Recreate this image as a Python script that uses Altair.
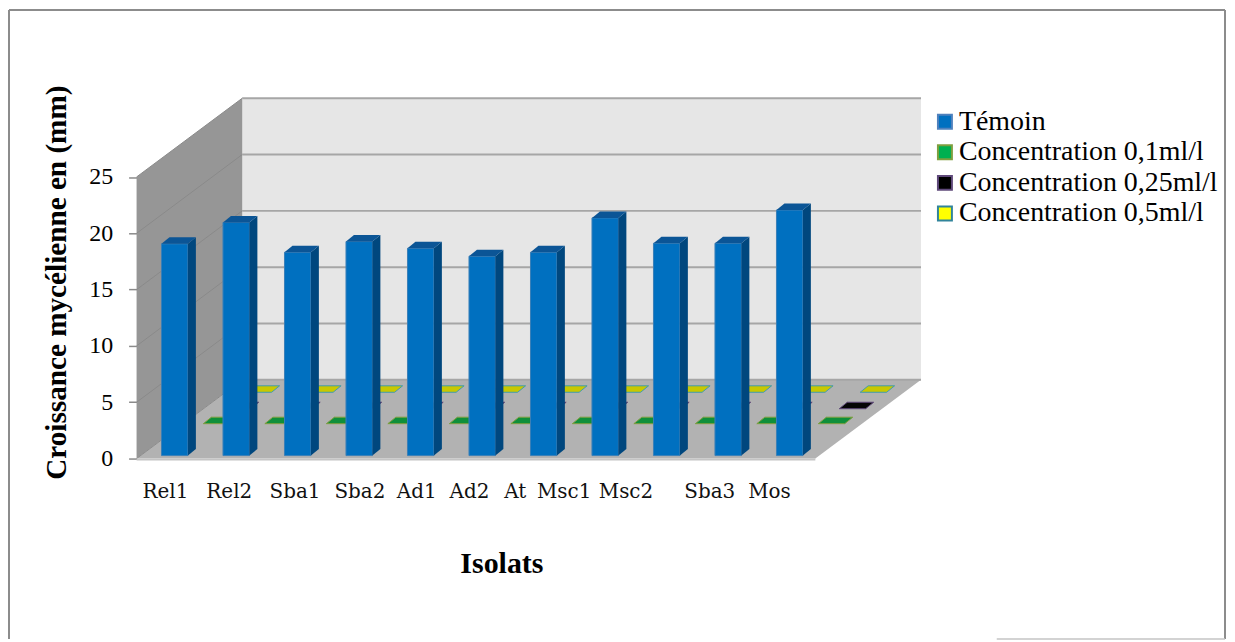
import altair as alt
import pandas as pd

categories = ["Rel1", "Rel2", "Sba1", "Sba2", "Ad1", "Ad2", "At", "Msc1", "Msc2", "Sba3", "Mos"]
temoin = [18.8, 20.7, 18.05, 19.0, 18.4, 17.7, 18.05, 21.1, 18.85, 18.85, 21.8]
conc_01 = [0] * 11
conc_025 = [0] * 11
conc_05 = [0] * 11
series = ["Témoin", "Concentration 0,1ml/l", "Concentration 0,25ml/l", "Concentration 0,5ml/l"]
legend_fill = ["#0070C0", "#00B050", "#000000", "#FFFF00"]
legend_stroke = ["#4F81BD", "#7F9F3F", "#5F497A", "#31849B"]
label_centres = [166, 230, 296, 361, 418, 471, 517, 566, 628, 712, 772]

W, H = 1223, 633
STEP, UNIT = 61.7, 11.3
X0, Y0 = 158 - 8, 459 - 8   # chart pixel position of column 0, value 0
DEPTH_X, DEPTH_Y = 106, 79
BAR_W, BAR_DX, BAR_DY = 26.5, 8, 6.5

xs = alt.Scale(domain=[-X0 / STEP, (W - X0) / STEP], nice=False, zero=False)
ys = alt.Scale(domain=[(Y0 - H) / UNIT, Y0 / UNIT], nice=False, zero=False)


def X(u, px=0):
    return u + px / STEP


def Y(v, px=0):
    return v + px / UNIT


def vband(points, color, **mark):
    """Parallelogram with vertical edges: rows of (x, y, y2)."""
    df = pd.DataFrame(points, columns=["x", "y", "y2", "id"])
    return alt.Chart(df).mark_area(color=color, **mark).encode(
        x=alt.X("x:Q", scale=xs, axis=None),
        y=alt.Y("y:Q", scale=ys, axis=None),
        y2="y2:Q",
        detail="id:N",
    )


def hband(points, color, **mark):
    """Parallelogram with horizontal edges: rows of (y, x, x2)."""
    df = pd.DataFrame(points, columns=["y", "x", "x2", "id"])
    return alt.Chart(df).mark_area(color=color, orient="horizontal", **mark).encode(
        y=alt.Y("y:Q", scale=ys, axis=None),
        x=alt.X("x:Q", scale=xs, axis=None),
        x2="x2:Q",
        detail="id:N",
    )


# legend driver, hidden behind the back wall
legend_df = pd.DataFrame({"serie": series, "x": [X(3)] * 4, "y": [15] * 4})
leg = alt.Legend(
    title=None, orient="none", legendX=926, legendY=99, symbolType="square",
    symbolSize=196, symbolStrokeWidth=2, symbolOpacity=1, labelFont="Liberation Serif", labelFontSize=28,
    labelColor="#000000", labelOffset=0, rowPadding=2.7, labelLimit=400, padding=0,
)
legend_layer = alt.Chart(legend_df).mark_square(size=100, filled=True, opacity=1).encode(
    x=alt.X("x:Q", scale=xs, axis=None),
    y=alt.Y("y:Q", scale=ys, axis=None),
    color=alt.Color("serie:N", sort=series, scale=alt.Scale(domain=series, range=legend_fill), legend=leg),
    stroke=alt.Stroke("serie:N", sort=series, scale=alt.Scale(domain=series, range=legend_stroke), legend=leg),
)

# walls and floor
wall_l = X(0, 137 - 158)
wall_r = X(0, 818 - 158)
top = 25
back_wall = alt.Chart(pd.DataFrame({
    "x": [X(wall_l, DEPTH_X)], "x2": [X(wall_r, DEPTH_X)], "y": [Y(0, DEPTH_Y)], "y2": [Y(top, DEPTH_Y)],
})).mark_rect(color="#E6E6E6").encode(
    x=alt.X("x:Q", scale=xs, axis=None), x2="x2:Q",
    y=alt.Y("y:Q", scale=ys, axis=None), y2="y2:Q",
)
left_wall = vband(
    [(wall_l, 0, top, "w"), (X(wall_l, DEPTH_X), Y(0, DEPTH_Y), Y(top, DEPTH_Y), "w")],
    "#969696",
)
floor = hband(
    [(0, wall_l, wall_r, "f"), (Y(0, DEPTH_Y), X(wall_l, DEPTH_X), X(wall_r, DEPTH_X), "f")],
    "#B2B2B2",
)

levels = [0, 5, 10, 15, 20, 25]
grid_back = alt.Chart(pd.DataFrame({
    "x": [X(wall_l, DEPTH_X)] * 6, "x2": [X(wall_r, DEPTH_X)] * 6, "y": [Y(v, DEPTH_Y) for v in levels],
})).mark_rule(color="#A6A6A6", strokeWidth=2).encode(
    x=alt.X("x:Q", scale=xs, axis=None), x2="x2:Q", y=alt.Y("y:Q", scale=ys, axis=None),
)
side_rows = []
for v in levels:
    side_rows += [(wall_l, v, v), (X(wall_l, DEPTH_X), Y(v, DEPTH_Y), v)]
grid_side = alt.Chart(pd.DataFrame(side_rows, columns=["x", "y", "lvl"])).mark_line(
    color="#8A8A8A", strokeWidth=1
).encode(
    x=alt.X("x:Q", scale=xs, axis=None), y=alt.Y("y:Q", scale=ys, axis=None), detail="lvl:N",
)
front_lip = alt.Chart(pd.DataFrame({"x": [wall_l], "x2": [wall_r], "y": [Y(0, -1)]})).mark_rule(
    color="#C4C4C4", strokeWidth=2
).encode(x=alt.X("x:Q", scale=xs, axis=None), x2="x2:Q", y=alt.Y("y:Q", scale=ys, axis=None))


def tiles(values, depth_x, depth_y, fill, stroke, name):
    rows = []
    for i, v in enumerate(values):
        x = X(i, depth_x)
        rows.append((Y(v, depth_y), x, X(x, BAR_W), f"{name}{i}"))
        rows.append((Y(v, depth_y + BAR_DY), X(x, BAR_DX), X(x, BAR_W + BAR_DX), f"{name}{i}"))
    return hband(rows, fill, stroke=stroke, strokeWidth=1)


tiles_05 = tiles(conc_05, 88, 66.5, "#C9C800", "#3F9CB0", "y")
tiles_025 = tiles(conc_025, 67, 50, "#050505", "#5F497A", "k")
tiles_01 = tiles(conc_01, 46, 35, "#0F8F3A", "#7F9F3F", "g")

# Témoin bars
bx, by = 4, 3
bars_df = pd.DataFrame({
    "x": [X(i, bx) for i in range(11)],
    "x2": [X(i, bx + BAR_W) for i in range(11)],
    "y": [Y(0, by)] * 11,
    "y2": [Y(v, by) for v in temoin],
})
bars_front = alt.Chart(bars_df).mark_rect(color="#0070C0", stroke="#3A7FB8", strokeWidth=1).encode(
    x=alt.X("x:Q", scale=xs, axis=None), x2="x2:Q",
    y=alt.Y("y:Q", scale=ys, axis=None), y2="y2:Q",
)
side = []
cap = []
for i, v in enumerate(temoin):
    xr = X(i, bx + BAR_W)
    xl = X(i, bx)
    side += [
        (xr, Y(0, by), Y(v, by), f"s{i}"),
        (X(xr, BAR_DX), Y(0, by + BAR_DY), Y(v, by + BAR_DY), f"s{i}"),
    ]
    cap += [
        (Y(v, by), xl, xr, f"c{i}"),
        (Y(v, by + BAR_DY), X(xl, BAR_DX), X(xr, BAR_DX), f"c{i}"),
    ]
bars_side = vband(side, "#00477E")
bars_cap = hband(cap, "#0B5596")

# axes and text
y_axis_layer = alt.Chart(pd.DataFrame({"y": levels, "x": [wall_l] * 6})).mark_point(opacity=0).encode(
    x=alt.X("x:Q", scale=xs, axis=None),
    y=alt.Y("y:Q", scale=ys, axis=alt.Axis(
        values=levels, offset=-129, domain=False, grid=False, tickSize=8, tickColor="#8A8A8A",
        tickWidth=1.5, labelFont="Liberation Serif", labelFontSize=24, labelColor="#000000",
        labelPadding=16, title="Croissance mycélienne en (mm)", titleFont="Liberation Serif",
        titleFontSize=29.3, titleFontWeight="bold", titleColor="#000000", titleX=-65, titleY=274,
        titleAngle=270,
    )),
)
labels = alt.Chart(pd.DataFrame({
    "t": categories,
    "x": [(c - 158) / STEP for c in label_centres],
    "y": [Y(0, -34)] * 11,
})).mark_text(font="DejaVu Serif", fontSize=20, color="#111111").encode(
    x=alt.X("x:Q", scale=xs, axis=None), y=alt.Y("y:Q", scale=ys, axis=None), text="t:N",
)
x_title = alt.Chart(pd.DataFrame({"t": ["Isolats"], "x": [(503.5 - 158) / STEP], "y": [Y(0, -106)]})).mark_text(
    font="Liberation Serif", fontSize=30, fontWeight="bold", color="#000000"
).encode(
    x=alt.X("x:Q", scale=xs, axis=None), y=alt.Y("y:Q", scale=ys, axis=None), text="t:N",
)

# frame: top, left and right edges, and the short visible part of the bottom edge
fx_l, fx_r = X(0, 1 - X0), X(0, W - 2 - X0)
fy_t, fy_b = Y(0, Y0 - 1), Y(0, Y0 - H + 1)
frame_h = alt.Chart(pd.DataFrame({"x": [fx_l], "x2": [fx_r], "y": [fy_t]})).mark_rule(
    color="#8C8C8C", strokeWidth=2
).encode(x=alt.X("x:Q", scale=xs, axis=None), x2="x2:Q", y=alt.Y("y:Q", scale=ys, axis=None))
frame_v = alt.Chart(pd.DataFrame({"x": [fx_l, fx_r], "y": [fy_t, fy_t], "y2": [fy_b, fy_b]})).mark_rule(
    color="#8C8C8C", strokeWidth=2
).encode(x=alt.X("x:Q", scale=xs, axis=None), y=alt.Y("y:Q", scale=ys, axis=None), y2="y2:Q")
frame_b = alt.Chart(pd.DataFrame({"x": [X(0, 1000 - 158)], "x2": [fx_r], "y": [fy_b]})).mark_rule(
    color="#C4C4C4", strokeWidth=1.5
).encode(x=alt.X("x:Q", scale=xs, axis=None), x2="x2:Q", y=alt.Y("y:Q", scale=ys, axis=None))

chart = alt.layer(
    legend_layer, back_wall, left_wall, floor, grid_back, grid_side, front_lip,
    tiles_05, tiles_025, tiles_01, bars_front, bars_side, bars_cap,
    y_axis_layer, labels, x_title, frame_h, frame_v, frame_b,
).resolve_scale(
    x="shared", y="shared",
).resolve_axis(
    y="independent",
).properties(
    width=W, height=H, padding=0, background="#FFFFFF",
    autosize=alt.AutoSizeParams(type="none"),
).configure_view(stroke=None)

chart.save("out.html", embed_options={"renderer": "svg", "actions": False})
